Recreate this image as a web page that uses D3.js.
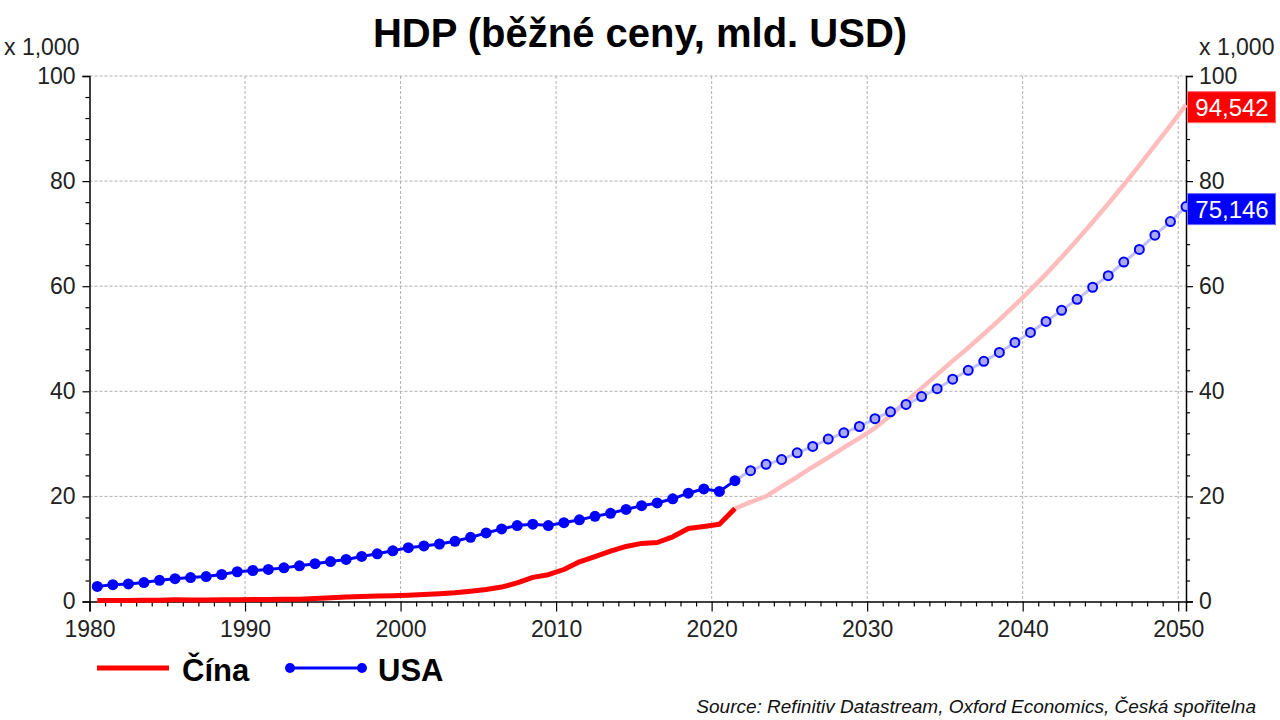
<!DOCTYPE html>
<html><head><meta charset="utf-8">
<script src="https://cdn.jsdelivr.net/npm/d3@7"></script>
<style>
body{margin:0;background:#fff;}
svg{display:block;font-family:"Liberation Sans",Arial,sans-serif;}
</style></head><body>
<svg id="c" width="1280" height="720"></svg>
<script>
const years = d3.range(1980, 2051);
const lastActual = 2021;
const china = [0.19,0.20,0.20,0.23,0.26,0.31,0.30,0.27,0.31,0.35,0.36,0.38,0.43,0.44,0.56,0.73,0.86,0.96,1.03,1.09,
1.21,1.34,1.47,1.66,1.96,2.29,2.75,3.55,4.59,5.10,6.09,7.55,8.53,9.57,10.48,11.06,11.23,12.31,13.89,14.28,14.69,17.7,
18.9,20.0,21.9,23.7,25.6,27.4,29.3,31.1,33.0,35.4,38.0,40.6,43.2,45.8,48.3,50.9,53.6,56.4,59.3,62.3,65.5,68.8,72.2,75.7,79.3,83.0,86.8,90.6,94.542];
const usa = [2.86,3.21,3.35,3.60,4.04,4.35,4.55,4.75,5.14,5.66,5.90,6.10,6.40,6.80,7.20,7.60,8.00,8.57,9.08,9.65,
10.25,10.58,10.94,11.46,12.21,13.04,13.82,14.45,14.71,14.45,15.0,15.54,16.2,16.78,17.53,18.24,18.75,19.54,20.61,21.43,20.94,23.0,
24.9,26.1,27.0,28.3,29.5,30.9,32.1,33.3,34.8,36.1,37.5,39.0,40.5,42.3,44.0,45.7,47.4,49.3,51.2,53.3,55.4,57.5,59.8,62.0,64.6,67.0,69.7,72.3,75.146];
const yTicks = [0,20,40,60,80,100];
const xTicks = [1980,1990,2000,2010,2020,2030,2040,2050];
const endLabels = ["94,542","75,146"];

const svg = d3.select("#c");
const L = 89.5, R = 1186, T = 76, B = 601.5;
const x = d3.scaleLinear().domain([1980, 2050.5]).range([L, R]);
const y = d3.scaleLinear().domain([0, 100]).range([B, T]);
const xp = yr => x(yr + 0.5);

// grid
const g = svg.append("g");
g.selectAll("line.hg").data(yTicks.filter(d=>d>0)).join("line")
  .attr("x1", L).attr("x2", R).attr("y1", d=>y(d)).attr("y2", d=>y(d))
  .attr("stroke", "#b0b0b0").attr("stroke-dasharray", "3,2").attr("stroke-width", 1);
g.selectAll("line.vg").data(xTicks.filter(d=>d>1980)).join("line")
  .attr("x1", d=>x(d)).attr("x2", d=>x(d)).attr("y1", T).attr("y2", B)
  .attr("stroke", "#b0b0b0").attr("stroke-dasharray", "3,2").attr("stroke-width", 1);

// axes
const fmt = d3.format("d");
const xAxis = d3.axisBottom(x).tickValues(xTicks).tickSize(10).tickPadding(9).tickFormat(fmt);
const xMinor = d3.axisBottom(x).tickValues(years.filter(d=>d%10!==0)).tickSize(5).tickFormat("");
const yL = d3.axisLeft(y).tickValues(yTicks).tickSize(7).tickPadding(7);
const yLm = d3.axisLeft(y).tickValues(d3.range(0,101,4).filter(d=>d%20!==0)).tickSize(4).tickFormat("");
const yR = d3.axisRight(y).tickValues(yTicks).tickSize(7).tickPadding(6);
const yRm = d3.axisRight(y).tickValues(d3.range(0,101,4).filter(d=>d%20!==0)).tickSize(4).tickFormat("");
function styleAxis(sel){
  sel.selectAll("path").attr("stroke","#000").attr("stroke-width",1.5);
  sel.selectAll("line").attr("stroke","#000").attr("stroke-width",1.2);
  sel.selectAll("text").attr("font-size",23).attr("fill","#222").attr("font-family","Liberation Sans, Arial, sans-serif");
}
svg.append("g").attr("transform",`translate(0,${B})`).call(xMinor).call(styleAxis).select("path").remove();
svg.append("g").attr("transform",`translate(0,${B})`).call(xAxis).call(styleAxis);
svg.append("g").attr("transform",`translate(${L},0)`).call(yLm).call(styleAxis).select("path").remove();
svg.append("g").attr("transform",`translate(${L},0)`).call(yL).call(styleAxis);
svg.append("g").attr("transform",`translate(${R},0)`).call(yRm).call(styleAxis).select("path").remove();
svg.append("g").attr("transform",`translate(${R},0)`).call(yR).call(styleAxis);

// data
const cn = years.map((yr,i)=>({yr, v:china[i]}));
const us = years.map((yr,i)=>({yr, v:usa[i]}));
const line = d3.line().x(d=>xp(d.yr)).y(d=>y(d.v));
const act = a => a.filter(d=>d.yr<=lastActual);
const fc = a => a.filter(d=>d.yr>=lastActual);

svg.append("path").datum(fc(cn)).attr("d",line).attr("fill","none")
  .attr("stroke","#ffbcbc").attr("stroke-width",4.5).attr("stroke-linejoin","round");
svg.append("path").datum(fc(us)).attr("d",line).attr("fill","none")
  .attr("stroke","#c0c0ff").attr("stroke-width",3);
svg.append("g").selectAll("circle").data(fc(us).filter(d=>d.yr>lastActual)).join("circle")
  .attr("cx",d=>xp(d.yr)).attr("cy",d=>y(d.v)).attr("r",4.5)
  .attr("fill","#a8a8f4").attr("stroke","#0000ff").attr("stroke-width",2);
svg.append("path").datum(act(cn)).attr("d",line).attr("fill","none")
  .attr("stroke","#ff0000").attr("stroke-width",5).attr("stroke-linejoin","round");
svg.append("path").datum(act(us)).attr("d",line).attr("fill","none")
  .attr("stroke","#0000ff").attr("stroke-width",3);
svg.append("g").selectAll("circle").data(act(us)).join("circle")
  .attr("cx",d=>xp(d.yr)).attr("cy",d=>y(d.v)).attr("r",5.5).attr("fill","#0000ff");

// end labels
const ends = [{v:china[china.length-1], t:endLabels[0], c:"#ff0000", s:"#ff6a6a"},
              {v:usa[usa.length-1], t:endLabels[1], c:"#0000ff", s:"#6a6aff"}];
ends.forEach(e=>{
  const cy = y(e.v)+2.5;
  svg.append("rect").attr("x",R+1.5).attr("y",cy-15.5).attr("width",88).attr("height",31)
    .attr("fill",e.c).attr("stroke",e.s).attr("stroke-width",1);
  svg.append("text").attr("x",R+46).attr("y",cy+8.5).attr("text-anchor","middle")
    .attr("font-size",24).attr("fill","#fff").text(e.t);
});

// units
svg.append("text").attr("x",4).attr("y",55).attr("font-size",23).attr("fill","#222").text("x 1,000");
svg.append("text").attr("x",1199).attr("y",55).attr("font-size",23).attr("fill","#222").text("x 1,000");

// title
svg.append("text").attr("x",640).attr("y",47).attr("text-anchor","middle")
  .attr("font-size",40).attr("font-weight","bold").attr("fill","#000").text("HDP (běžné ceny, mld. USD)");

// legend
const lg = svg.append("g");
lg.append("line").attr("x1",97).attr("x2",169).attr("y1",668).attr("y2",668).attr("stroke","#ff0000").attr("stroke-width",5);
lg.append("text").attr("x",182).attr("y",681).attr("font-size",31).attr("font-weight","bold").text("Čína");
lg.append("line").attr("x1",290).attr("x2",362).attr("y1",668).attr("y2",668).attr("stroke","#0000ff").attr("stroke-width",3);
lg.selectAll("circle").data([290,362]).join("circle").attr("cx",d=>d).attr("cy",668).attr("r",5).attr("fill","#0000ff");
lg.append("text").attr("x",378).attr("y",681).attr("font-size",31).attr("font-weight","bold").text("USA");

// source
svg.append("text").attr("x",1256).attr("y",713).attr("text-anchor","end").attr("font-size",19)
  .attr("font-style","italic").attr("fill","#111").text("Source: Refinitiv Datastream, Oxford Economics, Česká spořitelna");
</script>
</body></html>
